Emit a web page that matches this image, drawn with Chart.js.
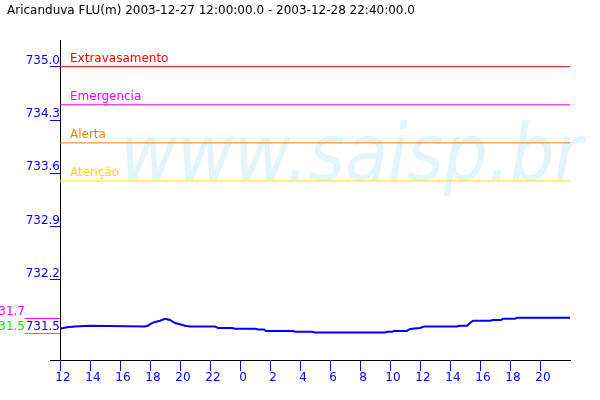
<!DOCTYPE html>
<html>
<head>
<meta charset="utf-8">
<script src="https://cdn.jsdelivr.net/npm/chart.js@4"></script>
<style>
  html, body { margin: 0; padding: 0; background: #fff; }
  canvas { display: block; }
</style>
</head>
<body>
<canvas id="chart" width="600" height="400"></canvas>
<script>
// dados
const chartTitle = 'Aricanduva FLU(m) 2003-12-27 12:00:00.0 - 2003-12-28 22:40:00.0';
const watermark = 'www.saisp.br';

// horas desde 00:00 do dia 27
const hours = [12.0, 12.47, 13.0, 14.0, 17.67, 17.87, 18.0, 18.33, 18.67, 19.0, 19.33, 19.67, 20.0, 20.33, 20.67,
  22.33, 22.53, 23.47, 23.67, 25.0, 25.2, 25.6, 25.73, 27.53, 27.67, 28.8, 29.0, 33.67, 33.8, 34.13, 34.27,
  35.13, 35.27, 35.47, 36.0, 36.27, 38.47, 38.6, 39.13, 39.33, 39.53, 40.67, 40.87, 41.4, 41.53, 42.33, 42.47, 46.0];
const levels = [731.56, 731.58, 731.59, 731.60, 731.59, 731.60, 731.62, 731.65, 731.665, 731.69, 731.675, 731.635, 731.62, 731.60, 731.59,
  731.59, 731.57, 731.57, 731.56, 731.56, 731.55, 731.55, 731.53, 731.53, 731.52, 731.52, 731.51, 731.51, 731.52, 731.52, 731.53,
  731.53, 731.55, 731.56, 731.57, 731.59, 731.59, 731.60, 731.60, 731.635, 731.665, 731.665, 731.675, 731.675, 731.69, 731.69, 731.705, 731.705];

const xTicks = [12, 14, 16, 18, 20, 22, 24, 26, 28, 30, 32, 34, 36, 38, 40, 42, 44];
const yTicks = [731.5, 732.2, 732.9, 733.6, 734.3, 735.0];

const thresholdNames = ['Extravasamento', 'Emergencia', 'Alerta', 'Atenção'];
const thresholdValues = [735.0, 734.5, 734.0, 733.5];
const thresholdColors = ['#ff0000', '#ff00ff', '#ff8000', '#ffd800'];

const markerValues = [731.7, 731.5];
const markerColors = ['#ff00ff', '#00e600'];

const FONT = '"DejaVu Sans", sans-serif';

// série principal + linhas de alerta
const datasets = [{
  data: hours.map((h, i) => ({ x: h, y: levels[i] })),
  borderColor: '#0000ff',
  borderWidth: 2,
  pointRadius: 0,
  tension: 0
}];
thresholdValues.forEach((v, i) => {
  datasets.push({
    data: [{ x: 12, y: v }, { x: 46, y: v }],
    borderColor: thresholdColors[i],
    borderWidth: 1,
    pointRadius: 0
  });
});

// desenhos extras: título, marca d'água, rótulos
const extras = {
  id: 'extras',
  beforeDatasetsDraw(chart) {
    const ctx = chart.ctx;
    ctx.save();
    ctx.font = 'italic 78px ' + FONT;
    const w = ctx.measureText(watermark).width;
    ctx.translate(120, 180);
    ctx.scale(463 / w, 1);
    ctx.fillStyle = '#e2f4fc';
    ctx.textBaseline = 'alphabetic';
    ctx.fillText(watermark, 0, 0);
    ctx.restore();
  },
  afterDraw(chart) {
    const ctx = chart.ctx;
    const y = chart.scales.y;
    const area = chart.chartArea;
    ctx.save();
    ctx.font = '12px ' + FONT;
    ctx.fillStyle = '#000';
    ctx.textBaseline = 'middle';
    ctx.textAlign = 'left';
    ctx.fillText(chartTitle, 7, 11);

    // nomes das linhas de alerta
    thresholdNames.forEach((name, i) => {
      ctx.fillStyle = thresholdColors[i];
      ctx.fillText(name, 70, y.getPixelForValue(thresholdValues[i]) - 8);
    });

    // marcas à esquerda do eixo
    markerValues.forEach((v, i) => {
      const py = Math.round(y.getPixelForValue(v)) + 0.5;
      ctx.strokeStyle = markerColors[i];
      ctx.lineWidth = 1;
      ctx.beginPath();
      ctx.moveTo(25, py);
      ctx.lineTo(area.left, py);
      ctx.stroke();
      ctx.fillStyle = markerColors[i];
      ctx.textAlign = 'right';
      ctx.fillText(v.toFixed(1), 25, py - 7);
    });

    // prolongamento do eixo x à esquerda
    ctx.strokeStyle = '#000';
    ctx.beginPath();
    ctx.moveTo(50, area.bottom + 0.5);
    ctx.lineTo(area.left, area.bottom + 0.5);
    ctx.stroke();
    ctx.restore();
  }
};

new Chart(document.getElementById('chart'), {
  type: 'line',
  data: { datasets: datasets },
  options: {
    responsive: false,
    animation: false,
    layout: { padding: { top: 40, right: 30, left: 0, bottom: 0 } },
    plugins: { legend: { display: false }, tooltip: { enabled: false }, title: { display: false } },
    scales: {
      x: {
        type: 'linear',
        min: 12,
        max: 46,
        afterBuildTicks: scale => { scale.ticks = xTicks.map(v => ({ value: v })); },
        afterFit: scale => { scale.height = 40; },
        grid: { drawOnChartArea: false, drawTicks: true, tickLength: 11, color: '#0000ff' },
        border: { color: '#000', width: 1 },
        ticks: {
          color: '#0000ff',
          font: { family: FONT, size: 12 },
          padding: 0,
          labelOffset: 3,
          maxRotation: 0,
          autoSkip: false,
          callback: v => String(v % 24)
        }
      },
      y: {
        min: 731.15,
        max: 735.35,
        afterBuildTicks: scale => { scale.ticks = yTicks.map(v => ({ value: v })); },
        afterFit: scale => { scale.width = 60; },
        grid: { drawOnChartArea: false, drawTicks: true, tickLength: 10, color: '#0000ff' },
        border: { color: '#000', width: 1 },
        ticks: {
          color: '#0000ff',
          font: { family: FONT, size: 12 },
          padding: -10,
          labelOffset: -6,
          autoSkip: false,
          callback: v => Number(v).toFixed(1)
        }
      }
    }
  },
  plugins: [extras]
});
</script>
</body>
</html>
